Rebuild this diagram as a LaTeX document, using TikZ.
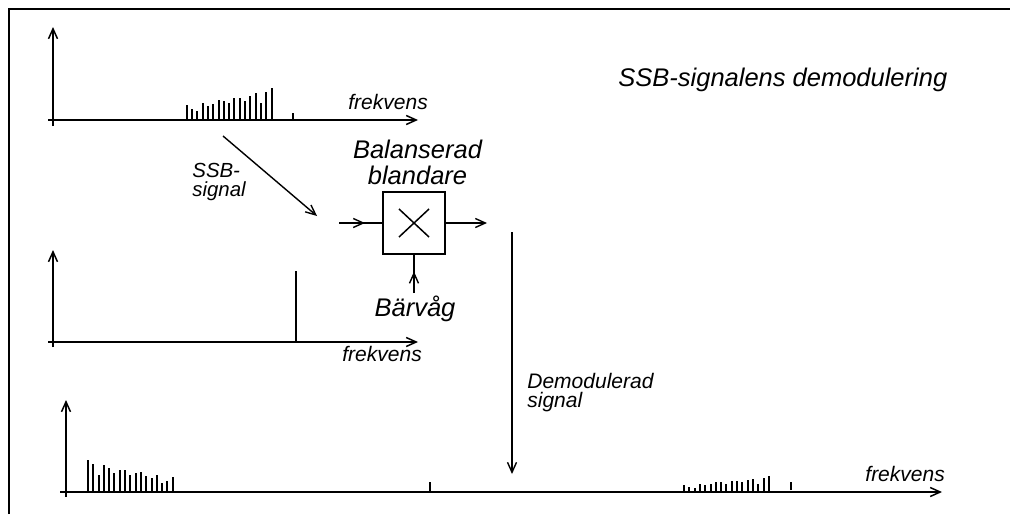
\documentclass[tikz,border=0pt]{standalone}
\usepackage{fontspec}
\setmainfont{Liberation Sans}
\usetikzlibrary{arrows.meta,positioning,decorations.markings}
\tikzset{
  axis/.style={line width=0.75pt,-{Straight Barb[length=5pt,width=4.5pt]}},
  sigarrow/.style={line width=0.7pt,-{Straight Barb[length=5pt,width=4.5pt]}},
  midarrow/.style={line width=0.7pt,postaction={decorate},
    decoration={markings,
      mark=at position #1 with {\arrow{Straight Barb[length=5pt,width=4.5pt]}}}},
  bar/.style={line width=1pt},
  lbl/.style={font=\itshape\fontsize{10.5}{9.5}\selectfont,inner sep=0pt},
  biglbl/.style={font=\itshape\fontsize{12.75}{13}\selectfont,inner sep=0pt},
}

\begin{document}
\begin{tikzpicture}[x=0.5pt,y=-0.5pt]
\useasboundingbox (0,0) rectangle (1010,514);
% only the top and left edges of the frame fall inside the picture
\draw[line width=0.75pt] (9,514) -- (9,9) -- (1010,9);

\node[biglbl,anchor=base west] (title) at (618,86) {SSB-signalens demodulering};

% Top spectrum: the SSB signal. Bar heights are reused (mirrored and halved) below.
\draw[axis] (53,126) -- (53,27);
\draw[axis] (48,120) -- (418,120);
\foreach \h [count=\i from 0] in {15,11,8.7,17,14.3,16,20,19.3,16.7,22,22,19.3,24,26.7,16.7,28,32}
  \draw[bar] (186.7+5.3*\i,120) -- ++(0,-\h);
\draw[bar] (293.3,120) -- ++(0,-7);
\node[lbl,anchor=base west] (freqA) at (348,109) {frekvens};

\coordinate (ssbA) at (223,136);
\coordinate (ssbB) at (317,216);
\draw[sigarrow] (ssbA) -- (ssbB);
\node[lbl,font=\itshape\fontsize{10.2}{9.5}\selectfont,align=left,anchor=west]
  (ssblbl) at (192,181.5) {SSB-\\signal};

% Balanced mixer
\node[draw,line width=0.75pt,minimum size=31pt,inner sep=0pt] (mix) at (414,223) {};
\draw[line width=0.75pt] ([shift={(-15,-14)}]mix.center) -- ([shift={(15,14)}]mix.center);
\draw[line width=0.75pt] ([shift={(-15,14)}]mix.center) -- ([shift={(15,-14)}]mix.center);
\node[biglbl,align=center] (mixlbl) at (417.5,162.3) {Balanserad\\blandare};
\coordinate (inL) at (339,223);
\coordinate (outR) at (487,223);
\coordinate (cin) at (414,293);
\draw[midarrow=0.6] (inL) -- (mix.west);
\draw[sigarrow] (mix.east) -- (outR);
\draw[midarrow=0.56] (cin) -- (mix.south);
\node[biglbl,anchor=base] (carrier) at (415,316.7) {Bärvåg};

% Middle spectrum: the carrier
\draw[axis] (53,347) -- (53,250);
\draw[axis] (48,342) -- (418,342);
\draw[line width=0.8pt] (295.7,342) -- (295.7,271);
\node[lbl,anchor=base west] (freqB) at (342,361) {frekvens};

% Demodulated output
\coordinate (demA) at (512,232);
\coordinate (demB) at (512,474);
\draw[sigarrow] (demA) -- (demB);
\node[lbl,align=left,anchor=west] (demodlbl) at (527,392.5) {Demodulerad\\signal};

% Bottom spectrum: difference band near zero, sum band far out
\draw[axis] (66,497) -- (66,400);
\draw[axis] (60,492) -- (942,492);
\foreach \h [count=\i from 0] in {15,11,8.7,17,14.3,16,20,19.3,16.7,22,22,19.3,24,26.7,16.7,28,32}
  \draw[bar] (172.7-5.3*\i,492) -- ++(0,-\h);
\foreach \h [count=\i from 0] in {15,11,8.7,17,14.3,16,20,19.3,16.7,22,22,19.3,24,26.7,16.7,28,32}
  \draw[bar] (684+5.3*\i,492) -- ++(0,-\h/2);
\draw[bar] (430,491) -- ++(0,-9);
\draw[bar] (790.7,490) -- ++(0,-8);
\node[lbl,anchor=base west] (freqC) at (865,481.7) {frekvens};
\end{tikzpicture}
\end{document}
